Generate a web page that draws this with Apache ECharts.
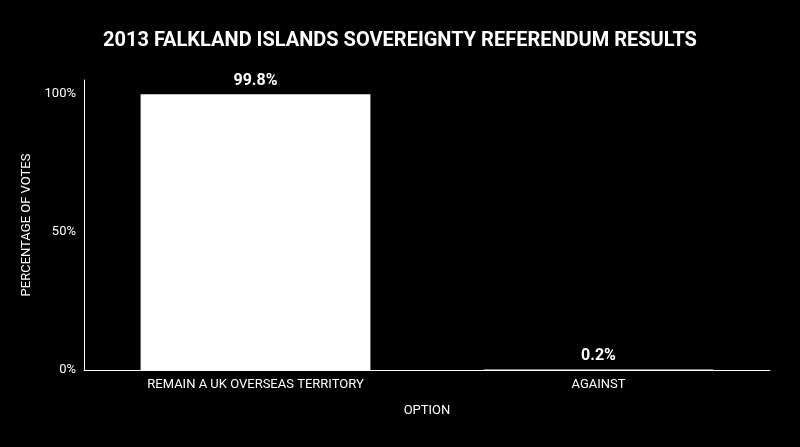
<!DOCTYPE html>
<html><head><meta charset="utf-8">
<script src="https://cdn.jsdelivr.net/npm/echarts@6/dist/echarts.min.js"></script>
<style>html,body{margin:0;background:#000;}#c{width:800px;height:447px;}</style>
</head><body><div id="c"></div>
<script>
const categories = ["REMAIN A UK OVERSEAS TERRITORY", "AGAINST"];
const values = [99.8, 0.2];
const chart = echarts.init(document.getElementById('c'));
const font = 'Roboto';
chart.setOption({
  backgroundColor: '#000',
  title: {text: '2013 FALKLAND ISLANDS SOVEREIGNTY REFERENDUM RESULTS', left: 'center', top: 26,
    textStyle: {color: '#fff', fontSize: 20, fontWeight: 'bold', fontFamily: font}},
  grid: {left: 84, right: 30, top: 80, bottom: 77},
  xAxis: {type: 'category', data: categories, name: 'OPTION', nameLocation: 'middle', nameGap: 34,
    nameTextStyle: {color: '#fff', fontSize: 13, fontFamily: font},
    axisLine: {lineStyle: {color: '#fff', width: 1}}, axisTick: {show: false},
    axisLabel: {color: '#fff', fontSize: 13, fontFamily: font, margin: 8}},
  yAxis: {type: 'value', min: 0, max: 105, interval: 50, name: 'PERCENTAGE OF VOTES', nameLocation: 'middle', nameGap: 50,
    nameTextStyle: {color: '#fff', fontSize: 13, fontFamily: font},
    axisLine: {show: true, lineStyle: {color: '#fff', width: 1}}, axisTick: {show: false}, splitLine: {show: false},
    axisLabel: {color: '#fff', fontSize: 13, fontFamily: font, formatter: v => v % 50 === 0 ? v + '%' : ''}},
  series: [{type: 'bar', data: values, barWidth: '67%', itemStyle: {color: '#fff'},
    label: {show: true, position: 'top', color: '#fff', fontSize: 16, fontWeight: 'bold', fontFamily: font, formatter: p => p.value + '%'}}]
});
</script></body></html>
